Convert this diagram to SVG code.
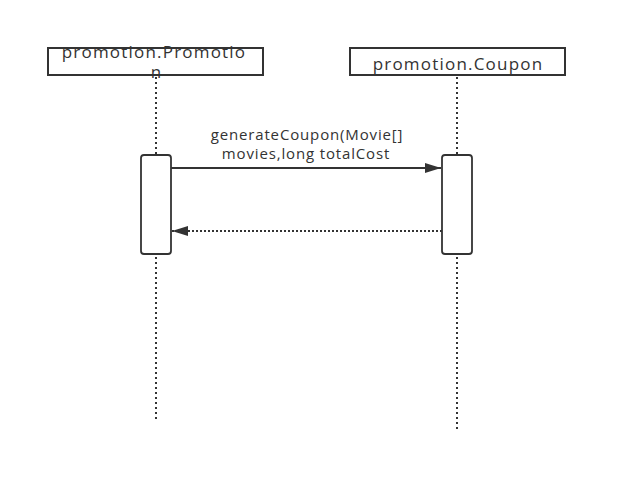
<svg xmlns="http://www.w3.org/2000/svg" width="626" height="491" viewBox="0 0 626 491">
<style>
.box{fill:#fff;stroke:#333;stroke-width:2}
.act{fill:#fff;stroke:#333;stroke-width:1.8}
.life{stroke:#333;stroke-width:2;stroke-dasharray:2 3;fill:none}
.t{font-family:"Open Sans","Noto Sans",sans-serif;font-size:17px;letter-spacing:1.2px;fill:#333;text-anchor:middle}
.lbl{font-family:"Open Sans","Noto Sans",sans-serif;font-size:15px;letter-spacing:0.85px;fill:#333;text-anchor:middle}
.msg{stroke:#333;stroke-width:1.8;fill:none}
.ret{stroke:#333;stroke-width:1.8;fill:none;stroke-dasharray:2 2}
</style>
<defs>
<marker id="ah" markerWidth="16" markerHeight="10" refX="16" refY="5" orient="auto" markerUnits="userSpaceOnUse">
<path d="M0,0 L16,5 L0,10 Z" fill="#333"/>
</marker>
</defs>
<rect width="626" height="491" fill="#fff"/>
<g id="lifelines">
<line class="life" x1="156" y1="77" x2="156" y2="419"/>
<line class="life" x1="457" y1="77" x2="457" y2="430"/>
</g>
<g id="promotion-Promotion">
<rect class="box" x="48" y="48" width="215" height="27"/>
<text class="t" x="154" y="58">promotion.Promotio</text>
<text class="t" x="156.500" y="78">n</text>
</g>
<g id="promotion-Coupon">
<rect class="box" x="350" y="48" width="215" height="27"/>
<text class="t" x="458" y="70">promotion.Coupon</text>
</g>
<g id="act1">
<rect class="act" x="141" y="155" width="30" height="99" rx="3"/>
</g>
<g id="act2">
<rect class="act" x="442" y="155" width="30" height="99" rx="3"/>
</g>
<g id="connectors">
<line class="msg" x1="171" y1="168" x2="441" y2="168" marker-end="url(#ah)"/>
<text class="lbl" x="307" y="140">generateCoupon(Movie[]</text>
<text class="lbl" x="306" y="159">movies,long totalCost</text>
<line class="ret" x1="442" y1="231" x2="172" y2="231" marker-end="url(#ah)"/>
</g>
</svg>
